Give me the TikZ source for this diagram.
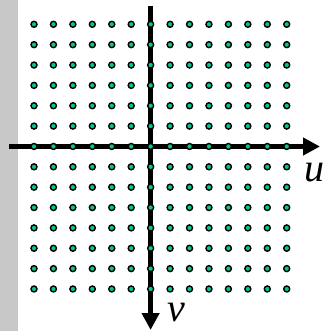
\documentclass[tikz,border=0pt]{standalone}
\usepackage{fontspec}
\setmainfont{Liberation Serif}
\usetikzlibrary{arrows.meta}
\definecolor{dotfill}{RGB}{0,200,150}
\definecolor{strip}{RGB}{200,200,200}

\begin{document}
\begin{tikzpicture}[
  x=1pt,y=-1pt,
  axis/.style={draw=black,line width=5.5pt,-{Triangle[length=17pt,width=17pt]}},
  pt/.style={fill=dotfill,draw=black,line width=1.4pt},
  lbl/.style={inner sep=0pt,anchor=base west,font=\fontsize{40}{40}\selectfont\itshape},
]
\useasboundingbox (0,0) rectangle (326,331);
% gray strip on the left
\fill[strip] (0,0) rectangle (18,331);

% axes
\coordinate (uL) at (9,146.5);
\coordinate (uR) at (320,146.5);
\coordinate (vT) at (150.6,6);
\coordinate (vB) at (150.6,330);
\draw[axis] (uL) -- (uR);
\draw[axis] (vT) -- (vB);

% sample grid
\foreach \i in {0,...,13}
  \foreach \j in {0,...,13}
    \path[pt] ({34+19.44*\i},{24.3+20.36*\j}) circle (3pt);

\node[lbl] (u) at (304,181.5) {u};
\node[lbl] (v) at (167,321) {v};
\end{tikzpicture}
\end{document}
